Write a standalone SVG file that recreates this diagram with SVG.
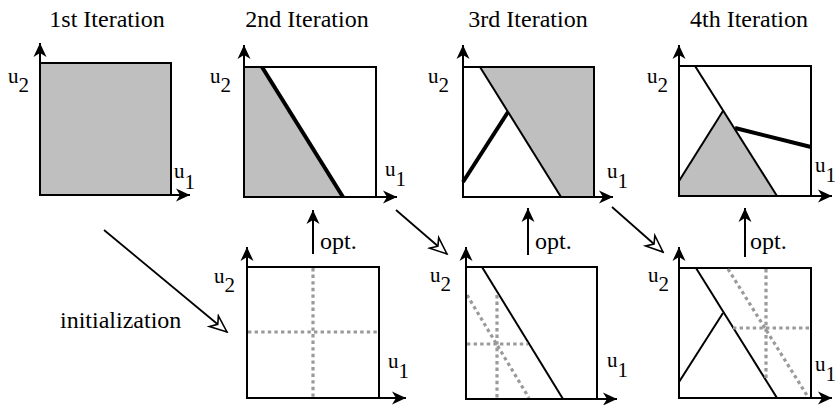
<svg xmlns="http://www.w3.org/2000/svg" width="835" height="405" viewBox="0 0 835 405">
<style>
text{fill:#000}
.t{font-size:24px;text-anchor:middle}
.u{font-size:21px}
.o{font-size:24px}
.box{fill:none;stroke:#000;stroke-width:2}
.gr{fill:#bfbfbf;stroke:none}
.ax{fill:none;stroke:#000;stroke-width:2;marker-end:url(#ah)}
.thin{fill:none;stroke:#000;stroke-width:2}
.thick{fill:none;stroke:#000;stroke-width:4}
.dot{fill:none;stroke:#9a9a9a;stroke-width:3.2;stroke-dasharray:3.4 3.2}
.ca{fill:none;stroke:#000;stroke-width:1.8;marker-end:url(#oh)}
.opt{fill:none;stroke:#000;stroke-width:2;marker-end:url(#ah)}
</style>
<defs>
<marker id="ah" markerUnits="userSpaceOnUse" viewBox="-15 -8 16 16" refX="0" refY="0" markerWidth="16" markerHeight="16" orient="auto">
<path d="M0,0 L-14,-6.5 L-10,0 L-14,6.5 Z" fill="#000"/>
</marker>
<marker id="oh" markerUnits="userSpaceOnUse" viewBox="-19 -10 21 20" refX="0" refY="0" markerWidth="21" markerHeight="20" orient="auto">
<path d="M0,0 L-17,-7 L-12,0 L-17,7 Z" fill="#fff" stroke="#000" stroke-width="1.6" stroke-linejoin="miter"/>
</marker>
</defs>
<g font-family="Liberation Serif, Times New Roman, serif">
<g id="titles">
<text class="t" x="107" y="27">1st Iteration</text>
<text class="t" x="307" y="27">2nd Iteration</text>
<text class="t" x="528" y="27">3rd Iteration</text>
<text class="t" x="749" y="27">4th Iteration</text>
</g>

<g id="p1">
<rect class="gr" x="40" y="63" width="131" height="132"/>
<rect class="box" x="40" y="63" width="131" height="132"/>
<path class="ax" d="M40,195 V43"/>
<path class="ax" d="M40,195 H190"/>
<text class="u" x="8" y="83">u<tspan dy="9">2</tspan></text>
<text class="u" x="174" y="178">u<tspan dy="11">1</tspan></text>
</g>

<g id="p2">
<polygon class="gr" points="244,67 262,67 343,197 244,197"/>
<rect class="box" x="244" y="67" width="132" height="130"/>
<path class="thick" d="M262,67 L343,197"/>
<path class="ax" d="M244,197 V45"/>
<path class="ax" d="M244,197 H397"/>
<text class="u" x="210" y="83">u<tspan dy="9">2</tspan></text>
<text class="u" x="385" y="176">u<tspan dy="10">1</tspan></text>
</g>

<g id="p3">
<polygon class="gr" points="480,67 594,67 594,197 561,197"/>
<rect class="box" x="463" y="67" width="131" height="130"/>
<path class="thin" d="M480,67 L561,197"/>
<path class="thick" d="M463,182 L508,112"/>
<path class="ax" d="M463,197 V45"/>
<path class="ax" d="M463,197 H613"/>
<text class="u" x="428" y="83">u<tspan dy="9">2</tspan></text>
<text class="u" x="607" y="178">u<tspan dy="10">1</tspan></text>
</g>

<g id="p4">
<polygon class="gr" points="679,181 723,111 777,196 679,196"/>
<rect class="box" x="679" y="66" width="132" height="130"/>
<path class="thin" d="M695,66 L777,196"/>
<path class="thin" d="M679,181 L723,111"/>
<path class="thick" d="M735,128 L811,147"/>
<path class="ax" d="M679,196 V45"/>
<path class="ax" d="M679,196 H832"/>
<text class="u" x="647" y="83">u<tspan dy="9">2</tspan></text>
<text class="u" x="815" y="172">u<tspan dy="10">1</tspan></text>
</g>

<g id="b2">
<rect class="box" x="247" y="267" width="132" height="131"/>
<path class="dot" d="M313,268 V397"/>
<path class="dot" d="M248,332 H378"/>
<path class="ax" d="M247,398 V247"/>
<path class="ax" d="M247,398 H406"/>
<text class="u" x="214" y="283">u<tspan dy="9">2</tspan></text>
<text class="u" x="388" y="368">u<tspan dy="10">1</tspan></text>
</g>

<g id="b3">
<rect class="box" x="466" y="267" width="131" height="132"/>
<path class="thin" d="M482,267 L563,399"/>
<path class="dot" d="M497,295 V398"/>
<path class="dot" d="M467,344 H528"/>
<path class="dot" d="M467,295 L529,398"/>
<path class="ax" d="M466,399 V247"/>
<path class="ax" d="M466,399 H617"/>
<text class="u" x="430" y="282">u<tspan dy="9">2</tspan></text>
<text class="u" x="607" y="367">u<tspan dy="10">1</tspan></text>
</g>

<g id="b4">
<rect class="box" x="679" y="268" width="132" height="130"/>
<path class="thin" d="M696,268 L777,398"/>
<path class="thin" d="M679,382 L723,313"/>
<path class="dot" d="M766,269 V378"/>
<path class="dot" d="M733,328 H810"/>
<path class="dot" d="M728,269 L808,397"/>
<path class="ax" d="M679,398 V247"/>
<path class="ax" d="M679,398 H832"/>
<text class="u" x="648" y="282">u<tspan dy="9">2</tspan></text>
<text class="u" x="815" y="371">u<tspan dy="10">1</tspan></text>
</g>

<g id="connectors">
<path class="ca" d="M104,230 L227,332"/>
<path class="ca" d="M396,210 L447,254"/>
<path class="ca" d="M612,207 L663,252"/>
<path class="opt" d="M313,254 V210"/>
<path class="opt" d="M528,255 V208"/>
<path class="opt" d="M745,257 V208"/>
<text class="o" x="60" y="328">initialization</text>
<text class="o" x="320" y="249">opt.</text>
<text class="o" x="535" y="249">opt.</text>
<text class="o" x="750" y="249">opt.</text>
</g>
</g>
</svg>
